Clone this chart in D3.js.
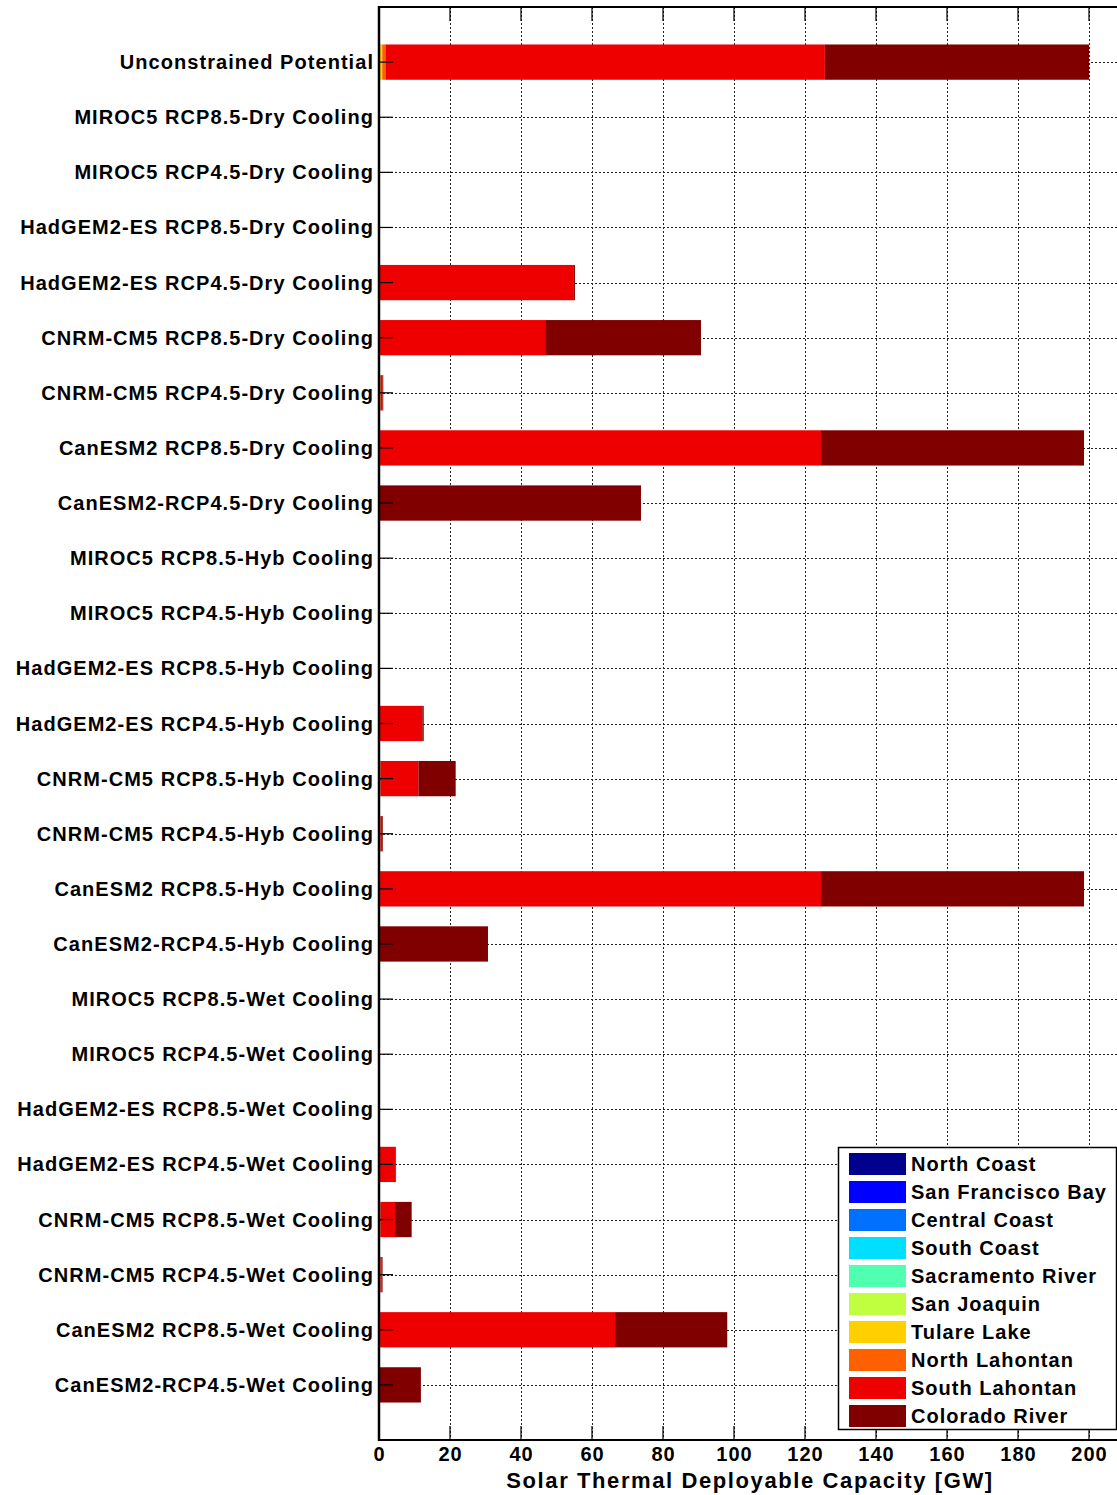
<!DOCTYPE html>
<html>
<head>
<meta charset="utf-8">
<script src="https://cdn.jsdelivr.net/npm/d3@7"></script>
<style>
  html, body { margin: 0; padding: 0; background: #fff; }
  svg { display: block; font-family: "Liberation Sans", Arial, sans-serif; }
</style>
</head>
<body>
<svg id="chart" width="1117" height="1495"></svg>
<script>
// Scenario rows, top to bottom
const categories = [
  "Unconstrained Potential",
  "MIROC5 RCP8.5-Dry Cooling",
  "MIROC5 RCP4.5-Dry Cooling",
  "HadGEM2-ES RCP8.5-Dry Cooling",
  "HadGEM2-ES RCP4.5-Dry Cooling",
  "CNRM-CM5 RCP8.5-Dry Cooling",
  "CNRM-CM5 RCP4.5-Dry Cooling",
  "CanESM2 RCP8.5-Dry Cooling",
  "CanESM2-RCP4.5-Dry Cooling",
  "MIROC5 RCP8.5-Hyb Cooling",
  "MIROC5 RCP4.5-Hyb Cooling",
  "HadGEM2-ES RCP8.5-Hyb Cooling",
  "HadGEM2-ES RCP4.5-Hyb Cooling",
  "CNRM-CM5 RCP8.5-Hyb Cooling",
  "CNRM-CM5 RCP4.5-Hyb Cooling",
  "CanESM2 RCP8.5-Hyb Cooling",
  "CanESM2-RCP4.5-Hyb Cooling",
  "MIROC5 RCP8.5-Wet Cooling",
  "MIROC5 RCP4.5-Wet Cooling",
  "HadGEM2-ES RCP8.5-Wet Cooling",
  "HadGEM2-ES RCP4.5-Wet Cooling",
  "CNRM-CM5 RCP8.5-Wet Cooling",
  "CNRM-CM5 RCP4.5-Wet Cooling",
  "CanESM2 RCP8.5-Wet Cooling",
  "CanESM2-RCP4.5-Wet Cooling"
];

// Hydrologic regions (stack order, left to right)
const regions = [
  "North Coast", "San Francisco Bay", "Central Coast", "South Coast",
  "Sacramento River", "San Joaquin", "Tulare Lake", "North Lahontan",
  "South Lahontan", "Colorado River"
];
const regionColors = [
  "#00008f", "#0000ff", "#0070ff", "#00dfff", "#50ffaf",
  "#bfff40", "#ffcf00", "#ff6000", "#ee0000", "#800000"
];

// Deployable capacity per region [GW], one value per scenario row
const northCoast      = [0,0,0,0,0,0,0,0,0,0,0,0,0,0,0,0,0,0,0,0,0,0,0,0,0];
const sanFranciscoBay = [0,0,0,0,0,0,0,0,0,0,0,0,0,0,0,0,0,0,0,0,0,0,0,0,0];
const centralCoast    = [0,0,0,0,0,0,0,0,0,0,0,0,0,0,0,0,0,0,0,0,0,0,0,0,0];
const southCoast      = [0,0,0,0,0,0,0,0,0,0,0,0,0,0,0,0,0,0,0,0,0,0,0,0,0];
const sacramentoRiver = [0,0,0,0,0,0,0,0,0,0,0,0,0,0,0,0,0,0,0,0,0,0,0,0,0];
const sanJoaquin      = [0,0,0,0,0,0,0,0,0,0,0,0,0,0,0,0,0,0,0,0,0,0,0,0,0];
const tulareLake      = [0.9,0,0,0,0,0,0,0,0,0,0,0,0,0,0,0,0,0,0,0,0,0,0,0,0];
const northLahontan   = [0.9,0,0,0,0,0.3,0.5,0.3,0,0,0,0,0,0.4,0.4,0.3,0,0,0,0,0,0.4,0.4,0.3,0];
const southLahontan   = [123.8,0,0,0,54.9,46.5,0.5,124.2,0,0,0,0,12.2,10.7,0.5,124.2,0,0,0,0,4.6,4.1,0.4,66.2,0];
const coloradoRiver   = [74.4,0,0,0,0.3,43.9,0.2,74.1,73.8,0,0,0,0.4,10.5,0.2,74.1,30.7,0,0,0,0.2,4.7,0.2,31.6,11.8];

const seriesValues = [
  northCoast, sanFranciscoBay, centralCoast, southCoast, sacramentoRiver,
  sanJoaquin, tulareLake, northLahontan, southLahontan, coloradoRiver
];

const xTicks = [0, 20, 40, 60, 80, 100, 120, 140, 160, 180, 200];

// Table for the stack layout
const table = categories.map((c, i) => {
  const row = { category: c };
  regions.forEach((r, k) => { row[r] = seriesValues[k][i]; });
  return row;
});

const svg = d3.select("#chart");
const plotLeft = 379, plotTop = 7, plotBottom = 1440;

// x runs past the right edge of the page
const x = d3.scaleLinear().domain([0, 210]).range([plotLeft, plotLeft + 3.55 * 210]);
const y = d3.scaleLinear().domain([0, categories.length + 1]).range([plotTop, plotBottom]);
const barH = 0.64 * (y(1) - y(0));
const plotRight = x(210);

// Grid
const grid = svg.append("g").attr("stroke", "#222").attr("stroke-width", 1)
  .attr("stroke-dasharray", "2,2").attr("shape-rendering", "crispEdges");
grid.selectAll(".vg").data(xTicks.filter(d => d > 0)).join("line")
  .attr("x1", d => Math.round(x(d)) + 0.5).attr("x2", d => Math.round(x(d)) + 0.5)
  .attr("y1", plotTop).attr("y2", plotBottom);
grid.selectAll(".hg").data(categories).join("line")
  .attr("x1", plotLeft).attr("x2", plotRight)
  .attr("y1", (d, i) => Math.round(y(i + 1)) + 0.5)
  .attr("y2", (d, i) => Math.round(y(i + 1)) + 0.5);

// Stacked bars
const stacked = d3.stack().keys(regions)(table);
svg.append("g").selectAll("g").data(stacked).join("g")
  .attr("fill", (d, k) => regionColors[k])
  .selectAll("rect").data(d => d).join("rect")
  .attr("x", d => x(d[0]))
  .attr("width", d => Math.max(0, x(d[1]) - x(d[0])))
  .attr("y", (d, i) => y(i + 1) - barH / 2)
  .attr("height", barH);

// Tick marks (inward)
const tickLen = 14;
const ticks = svg.append("g").attr("stroke", "#000").attr("stroke-width", 1.2);
ticks.selectAll(".lt").data(categories).join("line")
  .attr("x1", plotLeft).attr("x2", plotLeft + tickLen)
  .attr("y1", (d, i) => y(i + 1)).attr("y2", (d, i) => y(i + 1));
ticks.selectAll(".bt").data(xTicks).join("line")
  .attr("x1", d => x(d)).attr("x2", d => x(d))
  .attr("y1", plotBottom).attr("y2", plotBottom - tickLen);
ticks.selectAll(".tt").data(xTicks).join("line")
  .attr("x1", d => x(d)).attr("x2", d => x(d))
  .attr("y1", plotTop).attr("y2", plotTop + tickLen);

// Axis frame
svg.append("line").attr("x1", plotLeft).attr("x2", plotLeft).attr("y1", plotTop - 1).attr("y2", plotBottom + 1)
  .attr("stroke", "#000").attr("stroke-width", 2.5);
svg.append("line").attr("x1", plotLeft).attr("x2", plotRight).attr("y1", plotTop).attr("y2", plotTop)
  .attr("stroke", "#000").attr("stroke-width", 2);
svg.append("line").attr("x1", plotLeft).attr("x2", plotRight).attr("y1", plotBottom).attr("y2", plotBottom)
  .attr("stroke", "#000").attr("stroke-width", 2);

// Category labels
svg.append("g").selectAll("text").data(categories).join("text")
  .attr("x", 374).attr("y", (d, i) => y(i + 1))
  .attr("dy", "0.35em").attr("text-anchor", "end")
  .attr("font-size", 20).attr("font-weight", "bold").attr("letter-spacing", 1.05)
  .attr("fill", "#000")
  .text(d => d);

// x tick labels
svg.append("g").selectAll("text").data(xTicks).join("text")
  .attr("x", d => x(d) + 0.5).attr("y", 1454)
  .attr("dy", "0.35em").attr("text-anchor", "middle")
  .attr("font-size", 20).attr("font-weight", "bold").attr("letter-spacing", 1.0)
  .attr("fill", "#000")
  .text(d => d);

// x axis title
svg.append("text")
  .attr("x", 750).attr("y", 1480).attr("dy", "0.35em").attr("text-anchor", "middle")
  .attr("font-size", 22).attr("font-weight", "bold").attr("letter-spacing", 1.6)
  .attr("fill", "#000")
  .text("Solar Thermal Deployable Capacity [GW]");

// Legend
const lg = svg.append("g");
lg.append("rect").attr("x", 838.5).attr("y", 1147.5).attr("width", 278).attr("height", 282)
  .attr("fill", "#fff").attr("stroke", "#000").attr("stroke-width", 1.5);
const items = lg.selectAll("g.item").data(regions).join("g")
  .attr("transform", (d, k) => `translate(0, ${1164 + 28 * k})`);
items.append("rect").attr("x", 849).attr("y", -11).attr("width", 57).attr("height", 22)
  .attr("fill", (d, k) => regionColors[k]);
items.append("text").attr("x", 911).attr("y", 0).attr("dy", "0.35em")
  .attr("font-size", 20).attr("font-weight", "bold").attr("letter-spacing", 1.0)
  .attr("fill", "#000")
  .text(d => d);
</script>
</body>
</html>
